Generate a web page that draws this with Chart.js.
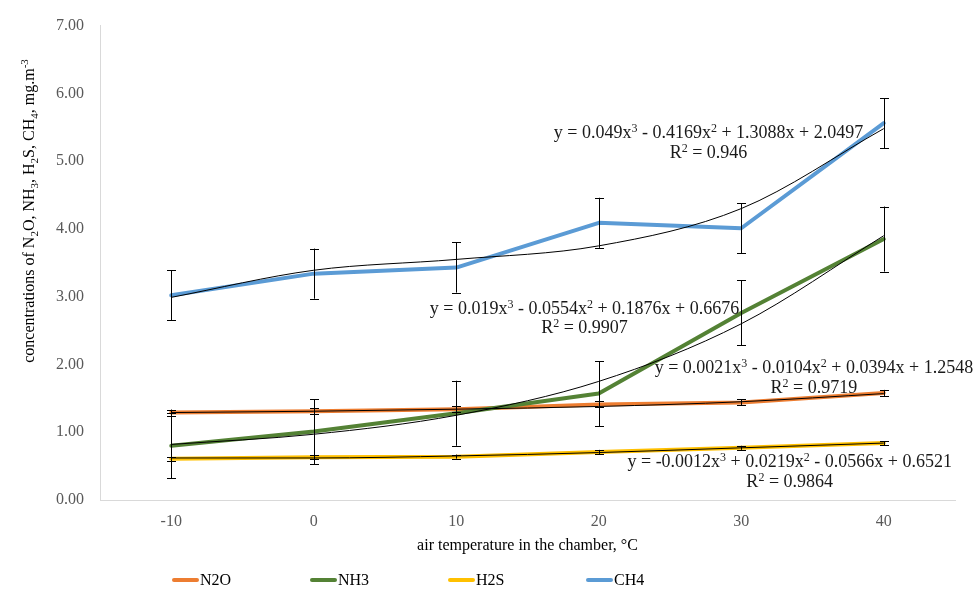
<!DOCTYPE html>
<html><head><meta charset="utf-8">
<script src="https://cdn.jsdelivr.net/npm/chart.js@4.4.0/dist/chart.umd.min.js"></script>
<style>html,body{margin:0;padding:0;background:#fff;}#wrap{width:973px;height:590px;}</style>
</head><body><div id="wrap"><canvas id="c" width="973" height="590"></canvas></div>
<script>
// ---- data ----
const categories = ['-10', '0', '10', '20', '30', '40'];
const seriesNames = ['N2O', 'NH3', 'H2S', 'CH4'];
const n2o = [1.29, 1.31, 1.34, 1.41, 1.44, 1.58];
const nh3 = [0.80, 1.01, 1.28, 1.57, 2.76, 3.85];
const h2s = [0.61, 0.63, 0.64, 0.71, 0.77, 0.84];
const ch4 = [3.02, 3.34, 3.43, 4.09, 4.01, 5.56];
const n2oErr = [0.045, 0.045, 0.045, 0.045, 0.045, 0.045];
const nh3Err = [0.48, 0.48, 0.48, 0.48, 0.48, 0.48];
const h2sErr = [0.03, 0.03, 0.03, 0.03, 0.03, 0.03];
const ch4Err = [0.37, 0.37, 0.37, 0.37, 0.37, 0.37];
const n2oTrend = [1.29, 1.31, 1.34, 1.38, 1.45, 1.57];
const nh3Trend = [0.82, 0.97, 1.25, 1.75, 2.60, 3.90];
const h2sTrend = [0.62, 0.62, 0.65, 0.70, 0.77, 0.84];
const ch4Trend = [2.99, 3.39, 3.55, 3.75, 4.30, 5.48];
const yTicks = [0, 1, 2, 3, 4, 5, 6, 7];
const n2oEq = ['y = 0.0021x\u00B3 - 0.0104x\u00B2 + 0.0394x + 1.2548', 'R\u00B2 = 0.9719'];
const nh3Eq = ['y = 0.019x\u00B3 - 0.0554x\u00B2 + 0.1876x + 0.6676', 'R\u00B2 = 0.9907'];
const h2sEq = ['y = -0.0012x\u00B3 + 0.0219x\u00B2 - 0.0566x + 0.6521', 'R\u00B2 = 0.9864'];
const ch4Eq = ['y = 0.049x\u00B3 - 0.4169x\u00B2 + 1.3088x + 2.0497', 'R\u00B2 = 0.946'];
const xTitle = 'air temperature in the chamber, \u00B0C';
// y title pieces: [text, kind] kind: n normal, s subscript, p superscript
const yTitleParts = [['concentrations of N','n'],['2','s'],['O, NH','n'],['3','s'],[', H','n'],['2','s'],['S, CH','n'],['4','s'],[', mg.m','n'],['-3','p']];

// ---- styles ----
const FONT = "'Liberation Serif', 'Times New Roman', serif";
const colors = ['#ED7D31', '#548235', '#FFC000', '#5B9BD5'];
const seriesData = [n2o, nh3, h2s, ch4];
const errData = [n2oErr, nh3Err, h2sErr, ch4Err];
const trendData = [n2oTrend, nh3Trend, h2sTrend, ch4Trend];
const eqs = [n2oEq, nh3Eq, h2sEq, ch4Eq];
// equation anchor (category index, value) for the first line centre
const eqAnchors = [[4.51, 1.96], [2.90, 2.84], [4.34, 0.57], [3.77, 5.43]];

const datasets = [];
seriesData.forEach((d, i) => datasets.push({
  label: seriesNames[i], data: d, borderColor: colors[i], backgroundColor: colors[i],
  borderWidth: 4, pointRadius: 0, tension: 0, order: 4 - i, borderCapStyle: 'round', borderJoinStyle: 'round'
}));
trendData.forEach((d, i) => datasets.push({
  label: seriesNames[i] + ' trend', data: d, borderColor: '#000', borderWidth: 1,
  pointRadius: 0, cubicInterpolationMode: 'monotone', order: 0
}));

const errorBars = {
  id: 'errorBars',
  afterDatasetsDraw(chart) {
    const ctx = chart.ctx, ys = chart.scales.y;
    ctx.save();
    ctx.strokeStyle = '#000'; ctx.lineWidth = 1;
    seriesData.forEach((d, i) => {
      const meta = chart.getDatasetMeta(i);
      d.forEach((v, j) => {
        const x = Math.round(meta.data[j].x) + 0.5;
        const t = ys.getPixelForValue(v + errData[i][j]);
        const b = ys.getPixelForValue(v - errData[i][j]);
        ctx.beginPath();
        ctx.moveTo(x, t); ctx.lineTo(x, b);
        ctx.moveTo(x - 4.5, Math.round(t) + 0.5); ctx.lineTo(x + 4.5, Math.round(t) + 0.5);
        ctx.moveTo(x - 4.5, Math.round(b) + 0.5); ctx.lineTo(x + 4.5, Math.round(b) + 0.5);
        ctx.stroke();
      });
    });
    ctx.restore();
  }
};

function splitSup(text) {
  const parts = [];
  let cur = '';
  for (const ch of text) {
    if (ch === '\u00B2' || ch === '\u00B3') {
      if (cur) parts.push([cur, 'n']);
      parts.push([ch === '\u00B2' ? '2' : '3', 'p']);
      cur = '';
    } else cur += ch;
  }
  if (cur) parts.push([cur, 'n']);
  return parts;
}

function drawRich(ctx, parts, cx, baseY, big, small, supDy, subDy) {
  let total = 0;
  parts.forEach(p => { ctx.font = p[1] === 'n' ? big : small; total += ctx.measureText(p[0]).width; });
  let x = cx - total / 2;
  parts.forEach(p => {
    ctx.font = p[1] === 'n' ? big : small;
    const dy = p[1] === 's' ? subDy : (p[1] === 'p' ? supDy : 0);
    ctx.fillText(p[0], x, baseY + dy);
    x += ctx.measureText(p[0]).width;
  });
}

const textDecor = {
  id: 'textDecor',
  afterDraw(chart) {
    const ctx = chart.ctx, xs = chart.scales.x, ys = chart.scales.y;
    ctx.save();
    // equations
    ctx.fillStyle = '#1a1a1a';
    ctx.textAlign = 'left'; ctx.textBaseline = 'alphabetic';
    eqs.forEach((lines, i) => {
      const cx = xs.getPixelForValue(eqAnchors[i][0]);
      const cy = ys.getPixelForValue(eqAnchors[i][1]);
      lines.forEach((ln, k) => drawRich(ctx, splitSup(ln), cx, cy + 6 + k * 19.5, '18px ' + FONT, '12px ' + FONT, -6, 0));
    });
    // legend
    ctx.textBaseline = 'middle';
    ctx.font = '16px ' + FONT;
    seriesNames.forEach((n, i) => {
      const x0 = 174 + i * 138, y0 = 580;
      ctx.strokeStyle = colors[i]; ctx.lineWidth = 4; ctx.lineCap = 'round';
      ctx.beginPath(); ctx.moveTo(x0, y0); ctx.lineTo(x0 + 23, y0); ctx.stroke();
      ctx.fillStyle = '#000';
      ctx.fillText(n, x0 + 26, y0 + 1);
    });
    // y title
    ctx.translate(29, 211);
    ctx.rotate(-Math.PI / 2);
    ctx.fillStyle = '#000'; ctx.textBaseline = 'alphabetic';
    drawRich(ctx, yTitleParts, 0, 5, '16px ' + FONT, '11px ' + FONT, -6, 4);
    ctx.restore();
  }
};

new Chart(document.getElementById('c'), {
  type: 'line',
  data: { labels: categories, datasets },
  options: {
    responsive: false, animation: false, devicePixelRatio: 1,
    layout: { padding: { top: 20, right: 18, bottom: 0, left: 0 } },
    plugins: { legend: { display: false }, tooltip: { enabled: false } },
    scales: {
      x: {
        type: 'category', offset: true,
        grid: { display: false, drawTicks: false },
        border: { display: true, color: '#d9d9d9', width: 1 },
        ticks: { color: '#595959', font: { family: FONT, size: 16 }, padding: 12, maxRotation: 0 },
        title: { display: true, text: xTitle, color: '#000', font: { family: FONT, size: 16 }, padding: { top: 4, bottom: 35 } },
        afterFit(s) { s.height = 90; }
      },
      y: {
        min: 0, max: 7,
        afterBuildTicks(s) { s.ticks = yTicks.map(v => ({ value: v })); },
        grid: { display: false, drawTicks: false },
        border: { display: true, color: '#d9d9d9', width: 1 },
        ticks: { color: '#595959', font: { family: FONT, size: 16 }, padding: 16, callback: v => Number(v).toFixed(2) },
        afterFit(s) { s.width = 100; }
      }
    }
  },
  plugins: [errorBars, textDecor]
});
</script></body></html>
